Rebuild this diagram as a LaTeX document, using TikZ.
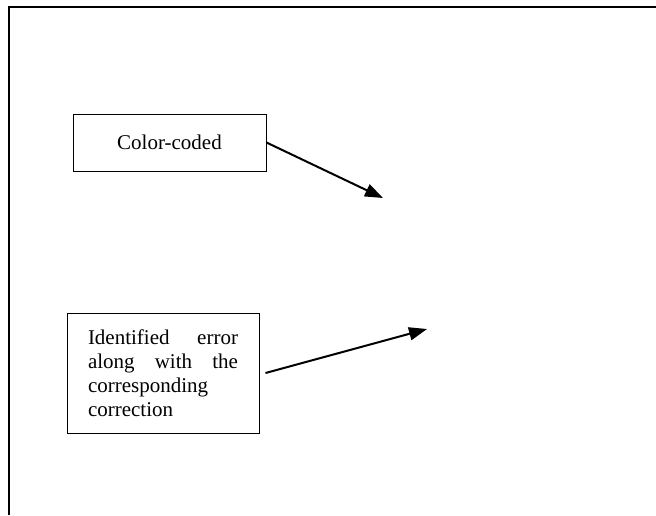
\documentclass[tikz,border=0pt]{standalone}
\usepackage{fontspec}
\setmainfont{Liberation Serif}
\usetikzlibrary{arrows.meta}

\begin{document}
\begin{tikzpicture}[x=0.5pt,y=-0.5pt]
        \tikzstyle{every node}=[font=\fontsize{10.5}{12}\selectfont]
        \tikzstyle{note}=[draw,line width=0.5pt,inner sep=0pt]
        \tikzstyle{pointer}=[line width=1pt,-{Triangle[length=9pt,width=6.5pt]}]
        \useasboundingbox (0,0) rectangle (656,515);
        \draw[line width=1.1pt] (9,515) -- (9,7) -- (656,7);
        \node[note,minimum width=96.5pt,minimum height=28.5pt] (coded) at (169.5,142.5) {Color-coded};
        \node[note,minimum width=96pt,minimum height=60pt,text width=75pt,align=justify] (error) at (163,373) {Identified error along with the corresponding correction};
        \coordinate (tipa) at (383,198);
        \coordinate (tipb) at (427,329);
        \draw[pointer] (coded.east) -- (tipa);
        \draw[pointer] ([xshift=3pt]error.east) -- (tipb);
    \end{tikzpicture}
\end{document}
